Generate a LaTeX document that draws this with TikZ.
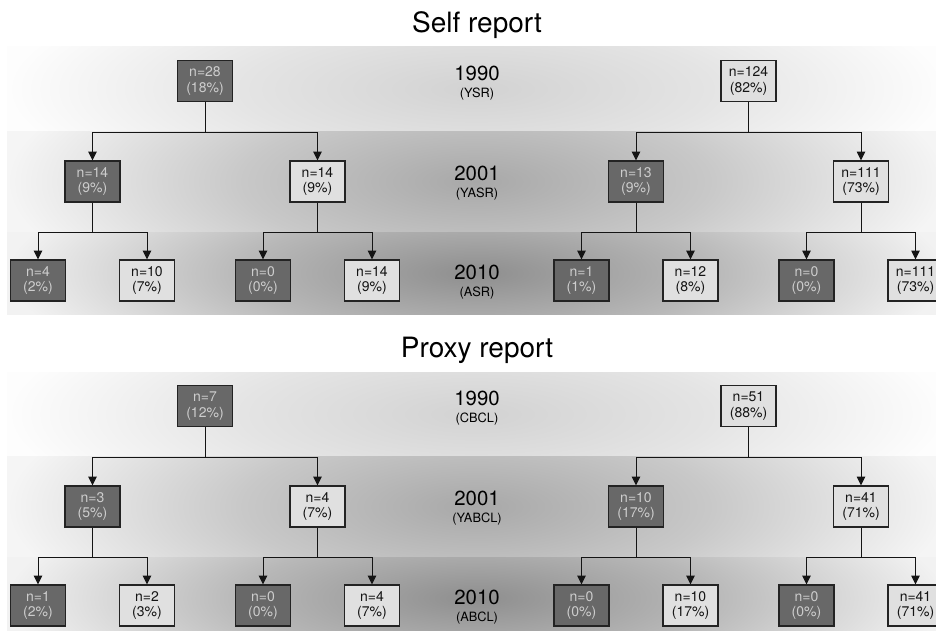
\documentclass[tikz,border=0pt]{standalone}
\usepackage{fontspec}
\setmainfont{TeX Gyre Heros}
\usetikzlibrary{arrows.meta, positioning}
\definecolor{treeInk}{RGB}{20,20,20}
\definecolor{cellEdge}{RGB}{35,35,35}
\definecolor{cellDark}{RGB}{104,104,104}
\definecolor{cellDarkText}{RGB}{205,205,205}
\definecolor{cellLight}{RGB}{224,224,224}
\definecolor{bandTopIn}{RGB}{210,210,210}
\definecolor{bandTopOut}{RGB}{253,253,253}
\definecolor{bandMidIn}{RGB}{168,168,168}
\definecolor{bandMidOut}{RGB}{245,245,245}
\definecolor{bandLowIn}{RGB}{142,142,142}
\definecolor{bandLowOut}{RGB}{242,242,242}
% glow of one band: dark in the middle, pale towards the ends
\newcommand\declareband[3]{%
  \pgfdeclareradialshading{#1}{\pgfpoint{0bp}{0bp}}%
    {color(0bp)=(#2); color(12.5bp)=(#3!42!#2); color(25bp)=(#3); color(50bp)=(#3)}}
\declareband{bandtop}{bandTopIn}{bandTopOut}
\declareband{bandmid}{bandMidIn}{bandMidOut}
\declareband{bandlow}{bandLowIn}{bandLowOut}
\tikzset{
  % one box of the tree; the fill comes from shaded or plain below
  cell/.style={
    draw=cellEdge, line width=0.6pt, align=center, inner sep=0pt,
    minimum width=27.5pt, minimum height=20.5pt,
    font=\fontsize{7}{7.8}\selectfont
  },
  shaded/.style={cell, fill=cellDark, text=cellDarkText},
  plain/.style={cell, fill=cellLight, text=treeInk},
  % branch of the tree
  flow/.style={-{Triangle[length=4.4pt,width=4.2pt]}, draw=treeInk, line width=0.5pt},
  % texts of the middle column
  panel/.style={font=\fontsize{14}{16}\selectfont, text=black, inner sep=0pt},
  wave/.style={font=\fontsize{10.2}{12}\selectfont, text=black, inner sep=0pt},
  inst/.style={font=\fontsize{6.4}{8}\selectfont, text=black, inner sep=0pt},
}

\begin{document}
\begin{tikzpicture}[x=0.5pt, y=-0.5pt]
\clip (0,0) rectangle (936,631);

% ===========================================================================
% BACKGROUND BANDS (one per wave)
% ===========================================================================
\begin{scope}
  \clip (7,47) rectangle (945,131);
  \shade[shading=bandtop] (7,-37) rectangle (945,215);
\end{scope}
\begin{scope}
  \clip (7,131) rectangle (945,232);
  \shade[shading=bandmid] (7,30) rectangle (945,333);
\end{scope}
\begin{scope}
  \clip (7,232) rectangle (945,314);
  \shade[shading=bandlow] (7,150) rectangle (945,396);
\end{scope}

\begin{scope}
  \clip (7,372) rectangle (945,456);
  \shade[shading=bandtop] (7,288) rectangle (945,540);
\end{scope}
\begin{scope}
  \clip (7,456) rectangle (945,557);
  \shade[shading=bandmid] (7,355) rectangle (945,658);
\end{scope}
\begin{scope}
  \clip (7,557) rectangle (945,639);
  \shade[shading=bandlow] (7,475) rectangle (945,721);
\end{scope}

% ===========================================================================
% SELF REPORT
% ===========================================================================
\node[panel] (title_self) at (477,25) {Self report};

\node[wave] (w90s) at (477,73) {1990};
\node[inst] (i90s) at (477,94) {(YSR)};
\node[wave] (w01s) at (477,173) {2001};
\node[inst] (i01s) at (477,194) {(YASR)};
\node[wave] (w10s) at (477,272) {2010};
\node[inst] (i10s) at (477,293) {(ASR)};

% --- 1990 ---
\node[shaded] (s90a) at (205,81) {n=28\\(18\%)};
\node[plain]  (s90b) at (748.5,81) {n=124\\(82\%)};

% --- 2001 ---
\node[shaded] (s01a) at (92.5,181.5) {n=14\\(9\%)};
\node[plain]  (s01b) at (317.5,181.5) {n=14\\(9\%)};
\node[shaded] (s01c) at (636,181.5) {n=13\\(9\%)};
\node[plain]  (s01d) at (861,181.5) {n=111\\(73\%)};

% --- 2010 ---
\node[shaded] (s10a) at (38,280.5) {n=4\\(2\%)};
\node[plain]  (s10b) at (147,280.5) {n=10\\(7\%)};
\node[shaded] (s10c) at (263,280.5) {n=0\\(0\%)};
\node[plain]  (s10d) at (372,280.5) {n=14\\(9\%)};
\node[shaded] (s10e) at (581.5,280.5) {n=1\\(1\%)};
\node[plain]  (s10f) at (690.5,280.5) {n=12\\(8\%)};
\node[shaded] (s10g) at (806.5,280.5) {n=0\\(0\%)};
\node[plain]  (s10h) at (915.5,280.5) {n=111\\(73\%)};

\draw[flow] (s90a.south) -- ++(0,30) -| (s01a.north);
\draw[flow] (s90a.south) -- ++(0,30) -| (s01b.north);
\draw[flow] (s90b.south) -- ++(0,30) -| (s01c.north);
\draw[flow] (s90b.south) -- ++(0,30) -| (s01d.north);

\draw[flow] (s01a.south) -- ++(0,30) -| (s10a.north);
\draw[flow] (s01a.south) -- ++(0,30) -| (s10b.north);
\draw[flow] (s01b.south) -- ++(0,30) -| (s10c.north);
\draw[flow] (s01b.south) -- ++(0,30) -| (s10d.north);
\draw[flow] (s01c.south) -- ++(0,30) -| (s10e.north);
\draw[flow] (s01c.south) -- ++(0,30) -| (s10f.north);
\draw[flow] (s01d.south) -- ++(0,30) -| (s10g.north);
\draw[flow] (s01d.south) -- ++(0,30) -| (s10h.north);

% ===========================================================================
% PROXY REPORT
% ===========================================================================
\node[panel] (title_proxy) at (477,350) {Proxy report};

\node[wave] (w90p) at (477,398) {1990};
\node[inst] (i90p) at (477,419) {(CBCL)};
\node[wave] (w01p) at (477,498) {2001};
\node[inst] (i01p) at (477,519) {(YABCL)};
\node[wave] (w10p) at (477,597) {2010};
\node[inst] (i10p) at (477,618) {(ABCL)};

% --- 1990 ---
\node[shaded] (p90a) at (205,406) {n=7\\(12\%)};
\node[plain]  (p90b) at (748.5,406) {n=51\\(88\%)};

% --- 2001 ---
\node[shaded] (p01a) at (92.5,506.5) {n=3\\(5\%)};
\node[plain]  (p01b) at (317.5,506.5) {n=4\\(7\%)};
\node[shaded] (p01c) at (636,506.5) {n=10\\(17\%)};
\node[plain]  (p01d) at (861,506.5) {n=41\\(71\%)};

% --- 2010 ---
\node[shaded] (p10a) at (38,605.5) {n=1\\(2\%)};
\node[plain]  (p10b) at (147,605.5) {n=2\\(3\%)};
\node[shaded] (p10c) at (263,605.5) {n=0\\(0\%)};
\node[plain]  (p10d) at (372,605.5) {n=4\\(7\%)};
\node[shaded] (p10e) at (581.5,605.5) {n=0\\(0\%)};
\node[plain]  (p10f) at (690.5,605.5) {n=10\\(17\%)};
\node[shaded] (p10g) at (806.5,605.5) {n=0\\(0\%)};
\node[plain]  (p10h) at (915.5,605.5) {n=41\\(71\%)};

\draw[flow] (p90a.south) -- ++(0,30) -| (p01a.north);
\draw[flow] (p90a.south) -- ++(0,30) -| (p01b.north);
\draw[flow] (p90b.south) -- ++(0,30) -| (p01c.north);
\draw[flow] (p90b.south) -- ++(0,30) -| (p01d.north);

\draw[flow] (p01a.south) -- ++(0,30) -| (p10a.north);
\draw[flow] (p01a.south) -- ++(0,30) -| (p10b.north);
\draw[flow] (p01b.south) -- ++(0,30) -| (p10c.north);
\draw[flow] (p01b.south) -- ++(0,30) -| (p10d.north);
\draw[flow] (p01c.south) -- ++(0,30) -| (p10e.north);
\draw[flow] (p01c.south) -- ++(0,30) -| (p10f.north);
\draw[flow] (p01d.south) -- ++(0,30) -| (p10g.north);
\draw[flow] (p01d.south) -- ++(0,30) -| (p10h.north);

\end{tikzpicture}
\end{document}
